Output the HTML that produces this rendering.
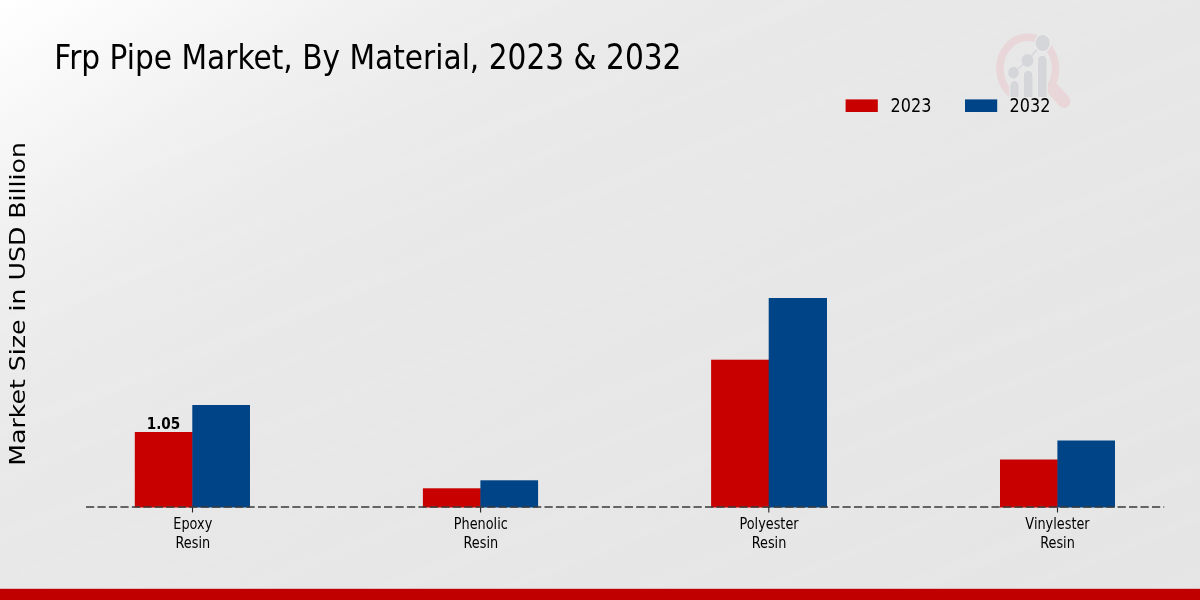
<!DOCTYPE html>
<html lang="en">
<head>
<meta charset="utf-8">
<title>Frp Pipe Market, By Material, 2023 &amp; 2032</title>
<style>
html,body{margin:0;padding:0;}
body{width:1200px;height:600px;overflow:hidden;position:relative;background:#e7e7e7;
  font-family:"DejaVu Sans","Liberation Sans",sans-serif;color:#000;}
#chart{position:absolute;left:0;top:0;width:1200px;height:600px;overflow:hidden;
  background:
    repeating-linear-gradient(158deg,rgba(255,255,255,0) 0,rgba(255,255,255,.055) 12px,rgba(255,255,255,0) 26px,rgba(255,255,255,0) 47px,rgba(255,255,255,.04) 55px,rgba(255,255,255,0) 66px,rgba(255,255,255,0) 97px),
    linear-gradient(148deg,#ffffff 0%,#fbfbfb 5%,#f6f6f6 11%,#f1f1f1 17%,#ededed 23%,#eaeaea 30%,#e8e8e8 40%,#e7e7e7 55%,#e6e6e6 75%,#e5e5e5 100%);}
svg{position:absolute;left:0;top:0;}
text{font-family:"DejaVu Sans","Liberation Sans",sans-serif;fill:#000;}
.title{font-size:33.3px;}
.yl{font-size:25.2px;}
.lg{font-size:19.2px;}
.tk{font-size:15.1px;text-anchor:middle;}
.val{font-size:15.28px;font-weight:bold;text-anchor:middle;}
</style>
</head>
<body>
<div id="chart">
<svg width="1200" height="600" viewBox="0 0 1200 600">
  <!-- watermark logo -->
  <g id="logo">
    <path d="M1011.2 93.9 A27.8 31.4 0 1 1 1047.6 90.6" fill="none" stroke="#e8d6d8" stroke-width="7.5"/>
    <line x1="1053" y1="89" x2="1064" y2="101.4" stroke="#e8d6d8" stroke-width="13" stroke-linecap="round"/>
    <g fill="#d5d6da" stroke="#e9e9e9" stroke-width="1.2">
      <path d="M1009.8 97.5 V85.5 a4.7 5 0 0 1 9.4 0 V97.5 Z"/>
      <path d="M1023.3 97.5 V75.3 a4.9 5.2 0 0 1 9.8 0 V97.5 Z"/>
      <path d="M1037.4 97.5 V60.3 a4.9 5.2 0 0 1 9.8 0 V97.5 Z"/>
    </g>
    <polyline points="1013.5,72.7 1027.5,60.5 1042.7,43" fill="none" stroke="#d5d6da" stroke-width="1.2"/>
    <g fill="#d5d6da">
      <ellipse cx="1013.5" cy="72.7" rx="5.3" ry="5.9"/>
      <ellipse cx="1027.5" cy="60.5" rx="5.9" ry="6.5"/>
      <ellipse cx="1042.7" cy="43" rx="7.8" ry="8.8" stroke="#eaeaea" stroke-width="1.4"/>
    </g>
  </g>

  <g class="title">
    <text transform="translate(54.3,68.5) scale(0.89,1)">Frp Pipe Market, By Material,</text>
    <text transform="translate(488.7,68.6) scale(0.89,1.06)">2023</text>
    <text transform="translate(573.5,68.6) scale(0.89,1.04)">&amp;</text>
    <text transform="translate(606.05,68.6) scale(0.89,1.06)">2032</text>
  </g>
  <text class="yl" transform="translate(25,303.9) scale(0.876,1) rotate(-90)" text-anchor="middle">Market Size in USD Billion</text>

  <!-- legend -->
  <rect x="845.6" y="99.4" width="32.2" height="12.6" fill="#c80000"/>
  <text class="lg" transform="translate(890.6,112) scale(0.836,1)">2023</text>
  <rect x="965" y="99.4" width="32.2" height="12.6" fill="#004488"/>
  <text class="lg" transform="translate(1009.6,112) scale(0.836,1)">2032</text>

  <!-- bars -->
  <g fill="#c80000">
    <rect x="134.8" y="432" width="58" height="75.5"/>
    <rect x="422.9" y="488.3" width="58" height="19.2"/>
    <rect x="711.1" y="359.7" width="58.1" height="147.8"/>
    <rect x="1000" y="459.5" width="57.9" height="48"/>
  </g>
  <g fill="#004488">
    <rect x="192.3" y="405" width="57.7" height="102.5"/>
    <rect x="480.4" y="480.3" width="57.7" height="27.2"/>
    <rect x="768.7" y="298" width="58.3" height="209.5"/>
    <rect x="1057.4" y="440.5" width="57.6" height="67"/>
  </g>
  <text class="val" transform="translate(163.5,428.5) scale(0.889,1)">1.05</text>

  <!-- axis -->
  <line x1="86" y1="507" x2="1164.2" y2="507" stroke="#3a3a3a" stroke-width="1.5" stroke-dasharray="8.25 3.212"/>
  <g stroke="#222" stroke-width="1.1">
    <line x1="192.5" y1="507.5" x2="192.5" y2="512.5"/>
    <line x1="480.6" y1="507.5" x2="480.6" y2="512.5"/>
    <line x1="768.8" y1="507.5" x2="768.8" y2="512.5"/>
    <line x1="1057.5" y1="507.5" x2="1057.5" y2="512.5"/>
  </g>
  <g class="tk">
    <text transform="translate(192.8,528.8) scale(0.852,1)">Epoxy</text><text transform="translate(192.8,548.2) scale(0.852,1)">Resin</text>
    <text transform="translate(480.8,528.8) scale(0.852,1)">Phenolic</text><text transform="translate(480.8,548.2) scale(0.852,1)">Resin</text>
    <text transform="translate(769,528.8) scale(0.852,1)">Polyester</text><text transform="translate(769,548.2) scale(0.852,1)">Resin</text>
    <text transform="translate(1057.5,528.8) scale(0.852,1)">Vinylester</text><text transform="translate(1057.5,548.2) scale(0.852,1)">Resin</text>
  </g>
  <rect x="0" y="588.8" width="1200" height="11.2" fill="#c00000"/>
</svg>
</div>
</body>
</html>
